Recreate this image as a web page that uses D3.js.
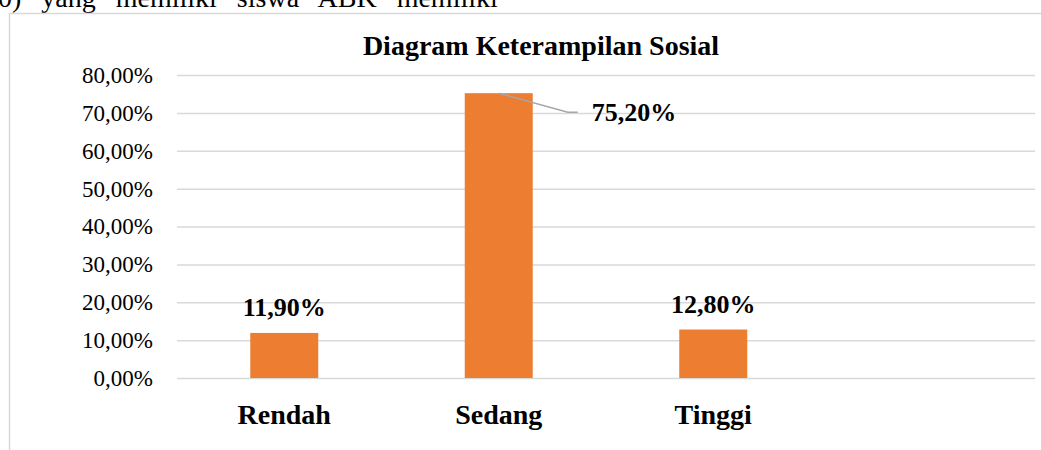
<!DOCTYPE html>
<html>
<head>
<meta charset="utf-8">
<script src="https://cdn.jsdelivr.net/npm/d3@7"></script>
<style>
  body { margin:0; background:#fff; }
  svg { display:block; font-family:"Liberation Serif","Times New Roman",serif; }
</style>
</head>
<body>
<div id="canvas"></div>
<script>
// data
var categories = ["Rendah", "Sedang", "Tinggi", ""];
var values = [0.119, 0.752, 0.128];
var tickValues = [0, 0.1, 0.2, 0.3, 0.4, 0.5, 0.6, 0.7, 0.8];
var title = "Diagram Keterampilan Sosial";
var topLine = "0) yang memiliki siswa ABK memiliki";

var width = 1041, height = 450;
var plot = {l:177, r:1035, t:75, b:378};

// comma as decimal mark: 75,20%
var locale = d3.formatLocale({decimal:",", thousands:".", grouping:[3], currency:["",""]});
var fmtTick = locale.format(".2%");

var svg = d3.select("#canvas")
    .append("svg")
    .attr("width", width)
    .attr("height", height);

// line of page text cut by the top edge
svg.append("text")
    .attr("x", -2)
    .attr("y", 7)
    .style("font-size", "28px")
    .style("word-spacing", "13px")
    .style("fill", "#000")
    .text(topLine);

// chart frame (runs off the right and bottom edge)
svg.append("path")
    .attr("d", "M9.5," + height + "V13.5H" + width)
    .style("fill", "none")
    .style("stroke", "#d9d9d9")
    .style("stroke-width", 1.5);

var x = d3.scaleBand()
    .domain(categories)
    .range([plot.l, plot.r])
    .paddingInner(0.683)
    .paddingOuter(0.3415);

var y = d3.scaleLinear()
    .domain([0, 0.8])
    .range([plot.b, plot.t]);

// gridlines
var grid = svg.append("g")
    .attr("transform", "translate(" + plot.l + ",0)")
    .call(d3.axisLeft(y).tickValues(tickValues).tickSize(-(plot.r - plot.l)).tickFormat(""));
grid.select(".domain").remove();
grid.selectAll("line")
    .style("stroke", "#d9d9d9")
    .style("stroke-width", 1.5);

// y tick labels
var yAxis = svg.append("g")
    .attr("transform", "translate(" + plot.l + ",0)")
    .call(d3.axisLeft(y).tickValues(tickValues).tickSize(0).tickPadding(24).tickFormat(fmtTick));
yAxis.select(".domain").remove();
yAxis.selectAll("text")
    .style("font-family", "'Liberation Serif','Times New Roman',serif")
    .style("font-size", "23px")
    .style("fill", "#000");

// bars
var rows = values.map(function(v, i){ return {cat:categories[i], v:v}; });

svg.selectAll(".bar")
    .data(rows)
    .enter()
    .append("rect")
    .attr("class", "bar")
    .attr("x", function(d){ return x(d.cat); })
    .attr("y", function(d){ return y(d.v); })
    .attr("width", x.bandwidth())
    .attr("height", function(d){ return y(0) - y(d.v); })
    .style("fill", "#ed7d31");

// category labels
var xAxis = svg.append("g")
    .attr("transform", "translate(0," + plot.b + ")")
    .call(d3.axisBottom(x).tickSize(0).tickPadding(26));
xAxis.select(".domain").remove();
xAxis.selectAll("text")
    .style("font-family", "'Liberation Serif','Times New Roman',serif")
    .style("font-size", "28px")
    .style("font-weight", "bold")
    .style("fill", "#000");

// data labels; the tall bar gets a leader line
rows.forEach(function(d){
    var cx = x(d.cat) + x.bandwidth() / 2;
    if (d.v > 0.5) {
        var ty = y(d.v) + 19;
        svg.append("path")
            .attr("d", "M" + cx + "," + y(d.v) + "L" + (cx + 69) + "," + ty + "H" + (cx + 79))
            .style("fill", "none")
            .style("stroke", "#a6a6a6")
            .style("stroke-width", 1.5);
        svg.append("text")
            .attr("x", cx + 93)
            .attr("y", ty + 9)
            .style("font-size", "26px")
            .style("font-weight", "bold")
            .text(fmtTick(d.v));
    } else {
        svg.append("text")
            .attr("x", cx)
            .attr("y", y(d.v) - 17)
            .attr("text-anchor", "middle")
            .style("font-size", "26px")
            .style("font-weight", "bold")
            .text(fmtTick(d.v));
    }
});

// title
svg.append("text")
    .attr("x", 541)
    .attr("y", 55)
    .attr("text-anchor", "middle")
    .style("font-size", "28px")
    .style("font-weight", "bold")
    .text(title);
</script>
</body>
</html>
